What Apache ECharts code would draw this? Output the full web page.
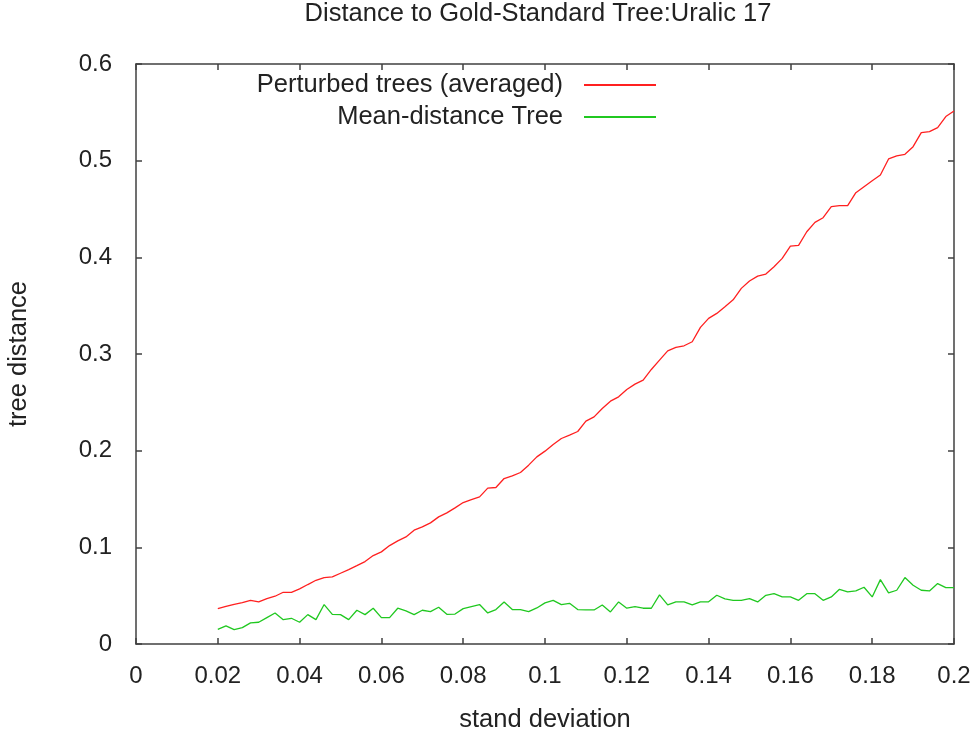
<!DOCTYPE html>
<html>
<head>
<meta charset="utf-8">
<script src="https://cdn.jsdelivr.net/npm/echarts@6/dist/echarts.min.js"></script>
<style>html,body{margin:0;padding:0;background:#fff}#c{width:978px;height:733px}</style>
</head>
<body>
<div id="c"></div>
<script>
var titleText = 'Distance to Gold-Standard Tree:Uralic 17';
var xName = 'stand deviation';
var yName = 'tree distance';
var seriesNames = ['Perturbed trees (averaged)', 'Mean-distance Tree'];

var xValues = [
0.020,0.022,0.024,0.026,0.028,0.030,0.032,0.034,0.036,0.038,
0.040,0.042,0.044,0.046,0.048,0.050,0.052,0.054,0.056,0.058,
0.060,0.062,0.064,0.066,0.068,0.070,0.072,0.074,0.076,0.078,
0.080,0.082,0.084,0.086,0.088,0.090,0.092,0.094,0.096,0.098,
0.100,0.102,0.104,0.106,0.108,0.110,0.112,0.114,0.116,0.118,
0.120,0.122,0.124,0.126,0.128,0.130,0.132,0.134,0.136,0.138,
0.140,0.142,0.144,0.146,0.148,0.150,0.152,0.154,0.156,0.158,
0.160,0.162,0.164,0.166,0.168,0.170,0.172,0.174,0.176,0.178,
0.180,0.182,0.184,0.186,0.188,0.190,0.192,0.194,0.196,0.198,
0.200];

var perturbed = [
0.0366,0.0390,0.0411,0.0428,0.0452,0.0435,0.0470,0.0494,0.0535,0.0535,
0.0570,0.0615,0.0659,0.0687,0.0694,0.0732,0.0770,0.0811,0.0853,0.0915,
0.0953,0.1018,0.1067,0.1108,0.1177,0.1211,0.1253,0.1315,0.1356,0.1408,
0.1463,0.1494,0.1522,0.1612,0.1619,0.1712,0.1739,0.1774,0.1850,0.1936,
0.1995,0.2064,0.2126,0.2160,0.2198,0.2305,0.2350,0.2437,0.2512,0.2557,
0.2633,0.2688,0.2730,0.2840,0.2937,0.3033,0.3068,0.3085,0.3127,0.3275,
0.3368,0.3420,0.3489,0.3560,0.3679,0.3755,0.3806,0.3827,0.3903,0.3989,
0.4117,0.4124,0.4265,0.4362,0.4410,0.4524,0.4534,0.4534,0.4669,0.4731,
0.4793,0.4852,0.5018,0.5049,0.5066,0.5145,0.5290,0.5300,0.5342,0.5456,
0.5514];

var meanTree = [
0.0152,0.0187,0.0149,0.0169,0.0218,0.0225,0.0273,0.0321,0.0252,0.0266,
0.0225,0.0304,0.0252,0.0408,0.0307,0.0304,0.0252,0.0349,0.0304,0.0370,
0.0273,0.0273,0.0370,0.0342,0.0304,0.0349,0.0335,0.0380,0.0307,0.0310,
0.0366,0.0387,0.0408,0.0321,0.0356,0.0435,0.0356,0.0356,0.0335,0.0373,
0.0425,0.0452,0.0408,0.0421,0.0356,0.0352,0.0352,0.0404,0.0332,0.0435,
0.0370,0.0387,0.0370,0.0370,0.0508,0.0404,0.0435,0.0435,0.0404,0.0435,
0.0437,0.0504,0.0466,0.0452,0.0452,0.0470,0.0435,0.0504,0.0521,0.0487,
0.0487,0.0452,0.0521,0.0521,0.0452,0.0487,0.0566,0.0539,0.0549,0.0587,
0.0487,0.0666,0.0528,0.0556,0.0687,0.0608,0.0556,0.0549,0.0625,0.0584,
0.0584];

function pairs(xs, ys) { return xs.map(function (x, i) { return [x, ys[i]]; }); }

var axisColor = '#404040';
var FONT = 'Liberation Sans, Arial, sans-serif';
var tickStyle = { color: '#222', fontSize: 24, fontFamily: FONT };
var nameStyle = { color: '#222', fontSize: 25.5, fontFamily: FONT };

function frameAxis(extra) {
  return Object.assign({
    axisLine: { show: true, onZero: false, lineStyle: { color: axisColor, width: 1.5 } },
    axisTick: { show: true, inside: true, length: 6, lineStyle: { color: axisColor, width: 1.5 } },
    splitLine: { show: false }
  }, extra);
}

var chart = echarts.init(document.getElementById('c'), null, { renderer: 'canvas' });
chart.setOption({
  backgroundColor: '#fff',
  animation: false,
  title: {
    text: titleText,
    left: 538, top: 1, textAlign: 'center', padding: 0,
    textStyle: { fontFamily: FONT, fontSize: 25.5, fontWeight: 'normal', color: '#222' }
  },
  legend: {
    orient: 'vertical',
    right: 322, top: 72, padding: 0,
    align: 'right',
    itemWidth: 72, itemHeight: 2, itemGap: 6,
    icon: 'rect',
    textStyle: { color: '#222', fontSize: 25.5, fontFamily: FONT, lineHeight: 24, padding: [0, 16, 0, 0] },
    data: seriesNames
  },
  grid: { left: 136, right: 24, top: 64, bottom: 89, containLabel: false, outerBoundsMode: 'none' },
  xAxis: [frameAxis({
    type: 'value', min: 0, max: 0.2, interval: 0.02, position: 'bottom',
    name: xName, nameLocation: 'middle', nameGap: 63,
    nameTextStyle: nameStyle,
    axisLabel: Object.assign({ margin: 20 }, tickStyle)
  }), frameAxis({
    type: 'value', min: 0, max: 0.2, interval: 0.02, position: 'top',
    axisLabel: { show: false }
  })],
  yAxis: [frameAxis({
    type: 'value', min: 0, max: 0.6, interval: 0.1, position: 'left',
    name: yName, nameLocation: 'middle', nameGap: 104, nameRotate: 90,
    nameTextStyle: nameStyle,
    axisLabel: Object.assign({ margin: 24 }, tickStyle)
  }), frameAxis({
    type: 'value', min: 0, max: 0.6, interval: 0.1, position: 'right',
    axisLabel: { show: false }
  })],
  series: [{
    name: seriesNames[0], type: 'line', xAxisIndex: 0, yAxisIndex: 0,
    data: pairs(xValues, perturbed), showSymbol: false, symbol: 'none',
    lineStyle: { color: '#ff2020', width: 1.3 }, itemStyle: { color: '#ff2020' }
  }, {
    name: seriesNames[1], type: 'line', xAxisIndex: 0, yAxisIndex: 0,
    data: pairs(xValues, meanTree), showSymbol: false, symbol: 'none',
    lineStyle: { color: '#20c820', width: 1.3 }, itemStyle: { color: '#20c820' }
  }]
});
</script>
</body>
</html>
